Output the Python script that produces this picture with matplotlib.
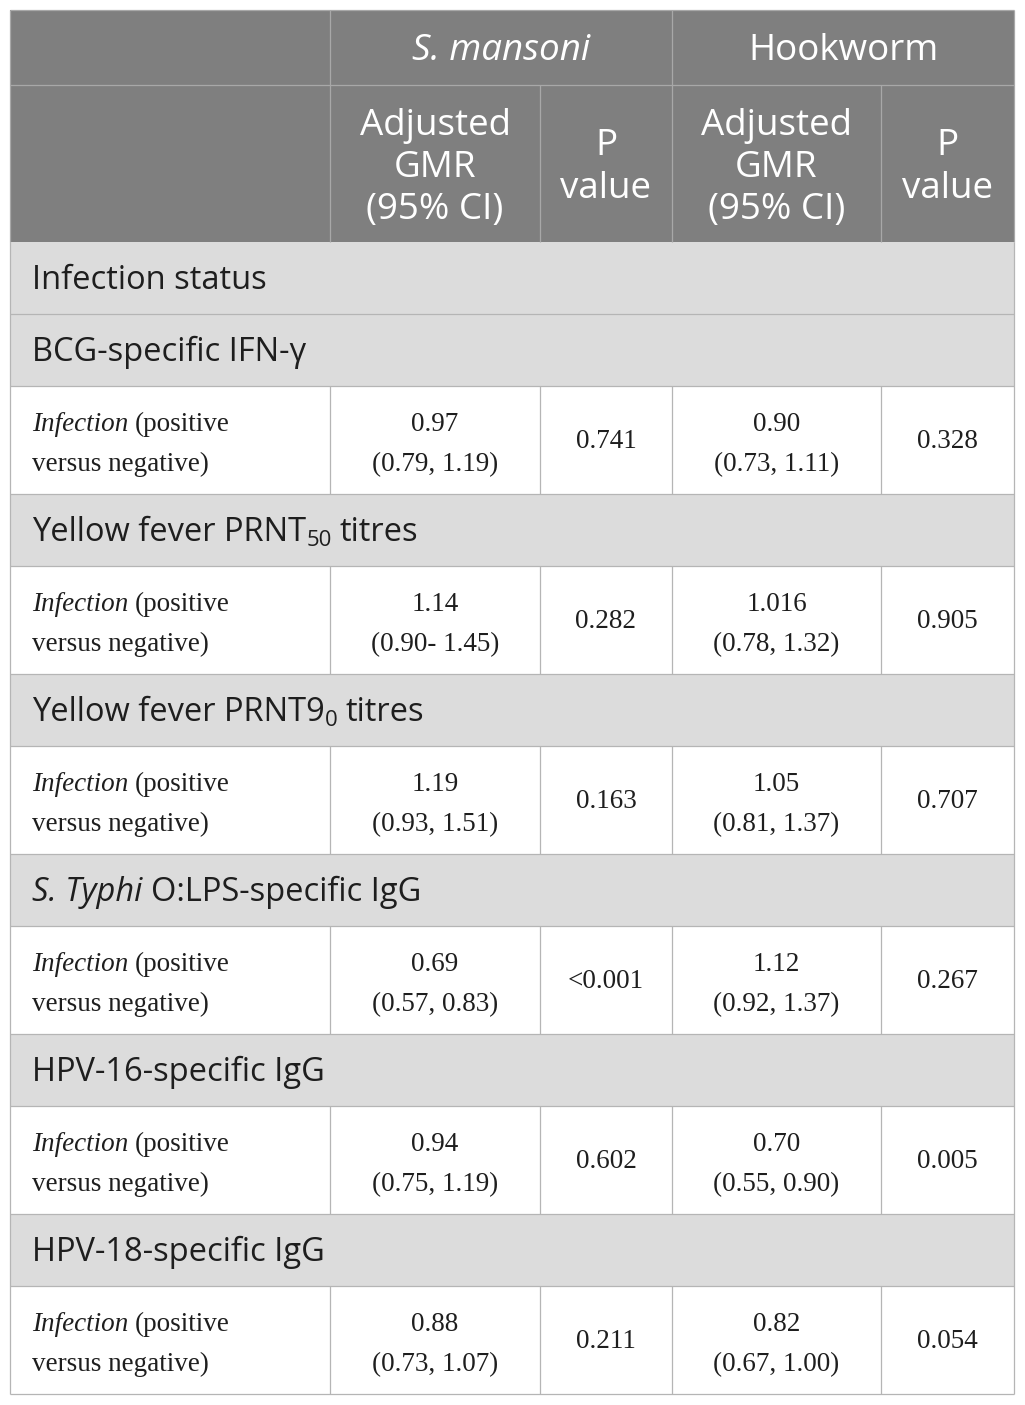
import matplotlib
matplotlib.use("Agg")
import matplotlib.pyplot as plt
from matplotlib.patches import Rectangle

# ---- table content ----
group_names = ["S. mansoni", "Hookworm"]
top_label = "Infection status"
sections = [
    [("BCG-specific IFN-γ", "r")],
    [("Yellow fever PRNT", "r"), ("50", "sub"), (" titres", "r")],
    [("Yellow fever PRNT9", "r"), ("0", "sub"), (" titres", "r")],
    [("S. Typhi", "i"), (" O:LPS-specific IgG", "r")],
    [("HPV-16-specific IgG", "r")],
    [("HPV-18-specific IgG", "r")],
]
sm_gmr = ["0.97", "1.14", "1.19", "0.69", "0.94", "0.88"]
sm_ci = ["(0.79, 1.19)", "(0.90- 1.45)", "(0.93, 1.51)", "(0.57, 0.83)", "(0.75, 1.19)", "(0.73, 1.07)"]
sm_p = ["0.741", "0.282", "0.163", "<0.001", "0.602", "0.211"]
hw_gmr = ["0.90", "1.016", "1.05", "1.12", "0.70", "0.82"]
hw_ci = ["(0.73, 1.11)", "(0.78, 1.32)", "(0.81, 1.37)", "(0.92, 1.37)", "(0.55, 0.90)", "(0.67, 1.00)"]
hw_p = ["0.328", "0.905", "0.707", "0.267", "0.005", "0.054"]

# ---- layout ----
W, H = 1025, 1405
cols = [10, 330, 540, 672, 881, 1014]
h_head1, h_head2, h_sec, h_dat = 75, 157, 72, 108
top = 10

HEAD_BG = "#7f7f7f"
HEAD_LINE = "#a8a8a8"
SEC_BG = "#dcdcdc"
LINE = "#b5b5b5"
TXT = "#1e1e1e"

SANS = "Open Sans"
SERIF = "Liberation Serif"

fig = plt.figure(figsize=(W / 100, H / 100), dpi=100)
ax = fig.add_axes([0, 0, 1, 1])
ax.set_xlim(0, W)
ax.set_ylim(H, 0)
ax.axis("off")
renderer = fig.canvas.get_renderer()


def width_of(s, **kw):
    t = ax.text(0, 0, "|" + s + "|", **kw)
    w = t.get_window_extent(renderer).width
    t.remove()
    t = ax.text(0, 0, "||", **kw)
    w -= t.get_window_extent(renderer).width
    t.remove()
    return w


def runs(x, y, parts, family, size, color=TXT, ha="left"):
    # parts: list of (text, style) with style r / i / sub
    items = []
    for s, st in parts:
        kw = dict(family=family, size=size, color=color)
        dy = 0
        if st == "i":
            kw["style"] = "italic"
        if st == "sub":
            kw["size"] = size * 0.68
            dy = size * 0.22
        items.append((s, kw, dy, width_of(s, **kw)))
    total = sum(it[3] for it in items)
    cx = x - total / 2 if ha == "center" else x
    for s, kw, dy, w in items:
        lead = len(s) - len(s.lstrip(" "))
        gap = width_of(" " * lead, **kw) if lead else 0
        if s.strip():
            ax.text(cx + gap, y + dy, s.strip(), va="baseline", ha="left", **kw)
        cx += w


# ---- header ----
y0 = top
y1 = y0 + h_head1
y2 = y1 + h_head2
ax.add_patch(Rectangle((cols[0], y0), cols[-1] - cols[0], y2 - y0, color=HEAD_BG, lw=0))
ax.hlines(y1, cols[0], cols[-1], color=HEAD_LINE, lw=0.9)
ax.vlines([cols[1], cols[3]], y0, y2, color=HEAD_LINE, lw=0.9)
ax.vlines([cols[2], cols[4]], y1, y2, color=HEAD_LINE, lw=0.9)

hsize = 26.5
runs((cols[1] + cols[3]) / 2, y0 + 50, [(group_names[0], "i")], SANS, hsize, "white", "center")
runs((cols[3] + cols[5]) / 2, y0 + 50, [(group_names[1], "r")], SANS, hsize, "white", "center")
for c in (1, 3):
    xc = (cols[c] + cols[c + 1]) / 2
    for k, line in enumerate(["Adjusted", "GMR", "(95% CI)"]):
        ax.text(xc, y1 + 50 + 42 * k, line, family=SANS, size=hsize, color="white",
                ha="center", va="baseline")
    xp = (cols[c + 1] + cols[c + 2]) / 2
    for k, line in enumerate(["P", "value"]):
        ax.text(xp, y1 + 70 + 43 * k, line, family=SANS, size=hsize, color="white",
                ha="center", va="baseline")

# ---- body ----
ssize = 23.5
dsize = 19.5
y = y2
ax.add_patch(Rectangle((cols[0], y), cols[-1] - cols[0], h_sec, color=SEC_BG, lw=0))
runs(32, y + h_sec / 2 + 11, [(top_label, "r")], SANS, ssize)
ax.hlines(y + h_sec, cols[0], cols[-1], color=LINE, lw=0.9)
y += h_sec

for i, sec in enumerate(sections):
    ax.add_patch(Rectangle((cols[0], y), cols[-1] - cols[0], h_sec, color=SEC_BG, lw=0))
    runs(32, y + h_sec / 2 + 11, sec, SANS, ssize)
    ax.hlines(y + h_sec, cols[0], cols[-1], color=LINE, lw=0.9)
    y += h_sec
    c = y + h_dat / 2
    runs(32, c - 9, [("Infection", "i"), (" (positive", "r")], SERIF, dsize)
    runs(32, c + 31, [("versus negative)", "r")], SERIF, dsize)
    for j, (g, ci, p) in enumerate([(sm_gmr[i], sm_ci[i], sm_p[i]),
                                    (hw_gmr[i], hw_ci[i], hw_p[i])]):
        xg = (cols[1 + 2 * j] + cols[2 + 2 * j]) / 2
        xp = (cols[2 + 2 * j] + cols[3 + 2 * j]) / 2
        ax.text(xg, c - 9, g, family=SERIF, size=dsize, color=TXT, ha="center", va="baseline")
        ax.text(xg, c + 31, ci, family=SERIF, size=dsize, color=TXT, ha="center", va="baseline")
        ax.text(xp, c + 8, p, family=SERIF, size=dsize, color=TXT, ha="center", va="baseline")
    ax.vlines(cols[1:5], y, y + h_dat, color=LINE, lw=0.9)
    ax.hlines(y + h_dat, cols[0], cols[-1], color=LINE, lw=0.9)
    y += h_dat

ax.vlines([cols[0], cols[-1]], y2, y, color=LINE, lw=0.9)
ax.vlines([cols[0], cols[-1]], y0, y2, color=HEAD_LINE, lw=0.9)
ax.hlines(y0, cols[0], cols[-1], color=HEAD_LINE, lw=0.9)

fig.savefig("out.png", dpi=100, facecolor="white")
